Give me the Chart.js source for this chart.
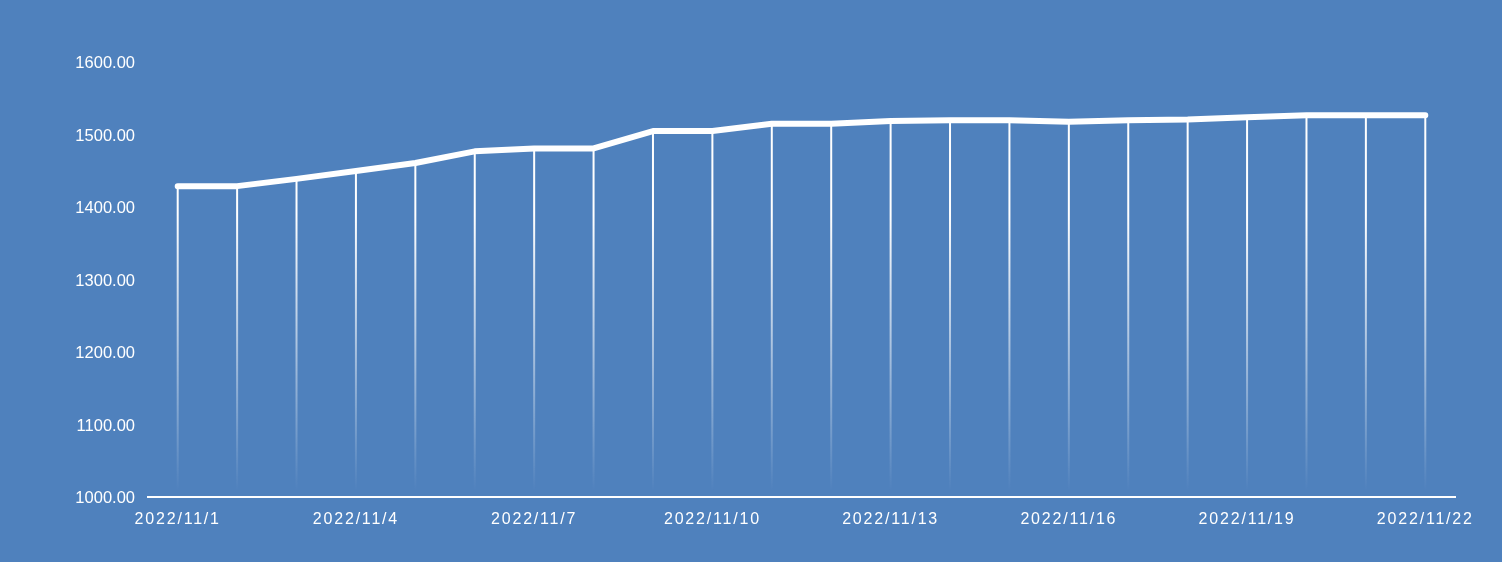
<!DOCTYPE html>
<html>
<head>
<meta charset="utf-8">
<script src="https://cdn.jsdelivr.net/npm/chart.js@4.4.0/dist/chart.umd.min.js"></script>
<style>
  body { margin: 0; background: #4F81BD; }
  #chart { display: block; background: #4F81BD; }
</style>
</head>
<body>
<canvas id="chart" width="1502" height="562"></canvas>
<script>
// dates on the x axis
var dates = ['2022/11/1', '2022/11/2', '2022/11/3', '2022/11/4', '2022/11/5', '2022/11/6',
    '2022/11/7', '2022/11/8', '2022/11/9', '2022/11/10', '2022/11/11', '2022/11/12',
    '2022/11/13', '2022/11/14', '2022/11/15', '2022/11/16', '2022/11/17', '2022/11/18',
    '2022/11/19', '2022/11/20', '2022/11/21', '2022/11/22'];

// values
var values = [1429, 1429, 1439, 1450, 1461, 1477, 1481, 1481, 1505, 1505, 1515, 1515,
    1519, 1520, 1520, 1518, 1520, 1521, 1524, 1527, 1527, 1527];

var yMin = 1000;
var yMax = 1650;
var yStep = 100;

// vertical drop lines from each point down to the axis, fading out
var dropLines = {
    id: 'dropLines',
    beforeDatasetsDraw: function(chart) {
        var ctx = chart.ctx;
        var area = chart.chartArea;
        var meta = chart.getDatasetMeta(0);
        var grad = ctx.createLinearGradient(0, area.top + (area.bottom - area.top) * 0.4, 0, area.bottom - 6);
        grad.addColorStop(0, 'rgba(255,255,255,1)');
        grad.addColorStop(1, 'rgba(255,255,255,0)');
        ctx.save();
        ctx.strokeStyle = grad;
        ctx.lineWidth = 2;
        meta.data.forEach(function(pt) {
            ctx.beginPath();
            ctx.moveTo(pt.x, pt.y);
            ctx.lineTo(pt.x, area.bottom);
            ctx.stroke();
        });
        ctx.restore();
    }
};

// spaced-out date labels, y labels nudged down a little
var labelTweaks = {
    id: 'labelTweaks',
    beforeDraw: function(chart) {
        var sx = chart.scales.x;
        if (!sx._tweaked) {
            var origX = sx.drawLabels;
            sx.drawLabels = function(a) {
                this.ctx.save();
                this.ctx.letterSpacing = '1.8px';
                origX.call(this, a);
                this.ctx.restore();
            };
            sx._tweaked = true;
        }
        var sy = chart.scales.y;
        if (!sy._tweaked) {
            var origY = sy.drawLabels;
            sy.drawLabels = function(a) {
                this.ctx.save();
                this.ctx.translate(0, 1.5);
                origY.call(this, a);
                this.ctx.restore();
            };
            sy._tweaked = true;
        }
    }
};

var ctx = document.getElementById('chart').getContext('2d');
var chart = new Chart(ctx, {
    type: 'line',
    data: {
        labels: dates,
        datasets: [{
            data: values,
            borderColor: '#FFFFFF',
            borderWidth: 6,
            borderCapStyle: 'round',
            borderJoinStyle: 'round',
            pointRadius: 0,
            tension: 0,
            fill: false
        }]
    },
    options: {
        responsive: false,
        animation: false,
        layout: { padding: { left: 0, right: 47, top: 26, bottom: 0 } },
        plugins: {
            legend: { display: false },
            tooltip: { enabled: false }
        },
        scales: {
            x: {
                offset: true,
                grid: { display: false, drawTicks: false },
                border: { display: true, color: '#FFFFFF', width: 2 },
                ticks: {
                    color: '#FFFFFF',
                    font: { family: 'Liberation Sans', size: 16 },
                    padding: 13,
                    maxRotation: 0,
                    autoSkip: false,
                    callback: function(v, i) { return i % 3 === 0 ? dates[i] : ''; }
                },
                afterFit: function(s) { s.height = 65; }
            },
            y: {
                min: yMin,
                max: yMax,
                grid: { display: false, drawTicks: false },
                border: { display: false },
                ticks: {
                    stepSize: yStep,
                    color: '#FFFFFF',
                    font: { family: 'Liberation Sans', size: 16.5 },
                    padding: 13,
                    callback: function(v) { return v % 100 === 0 ? v.toFixed(2) : ''; }
                },
                afterFit: function(s) { s.width = 148; }
            }
        }
    },
    plugins: [dropLines, labelTweaks]
});
</script>
</body>
</html>
